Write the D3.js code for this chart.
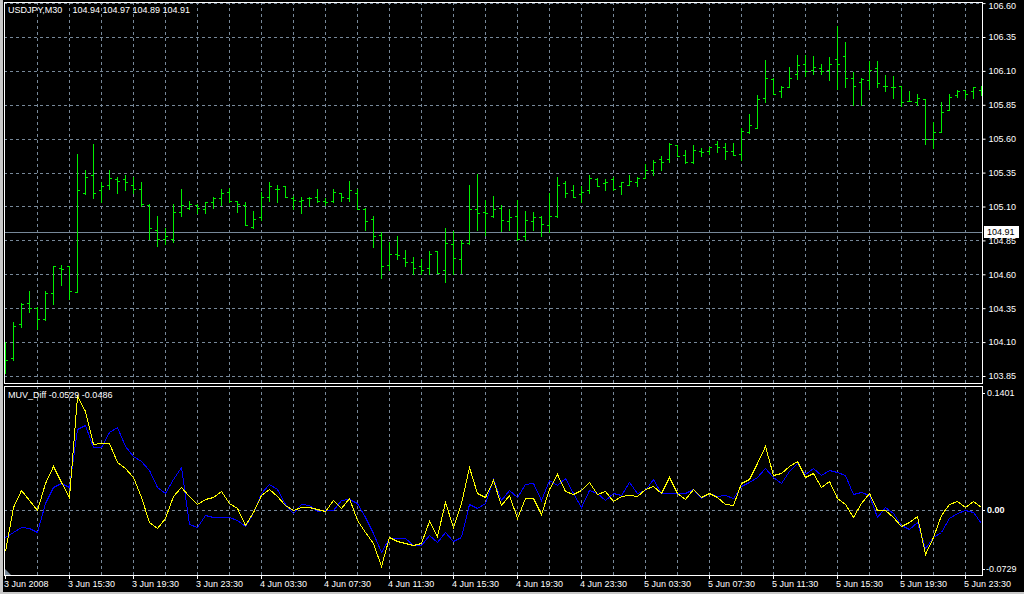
<!DOCTYPE html>
<html>
<head>
<meta charset="utf-8">
<script src="https://cdn.jsdelivr.net/npm/d3@7"></script>
<style>
html,body{margin:0;padding:0;background:#000;}
svg{display:block;}
text{font-family:"Liberation Sans",Arial,sans-serif;font-size:9px;}
</style>
</head>
<body>
<svg id="chart" width="1024" height="594"></svg>
<script>
// ---------- DATA ----------
const symbolTitle = "USDJPY,M30";
const quoteTitle = "104.94 104.97 104.89 104.91";
const indicatorTitle = "MUV_Diff -0.0529 -0.0486";
const bidPrice = 104.91;

const openPrices = [103.89,103.98,104.23,104.39,104.35,104.27,104.46,104.65,104.66,104.47,
105.20,105.33,105.22,105.26,105.30,105.30,105.26,105.23,105.11,104.93,
104.86,104.86,105.06,105.09,105.11,105.08,105.13,105.16,105.21,105.14,
105.11,104.95,105.02,105.17,105.23,105.25,105.16,105.14,105.16,105.17,
105.14,105.14,105.20,105.16,105.20,105.08,105.01,104.89,104.67,104.75,
104.72,104.69,104.66,104.65,104.77,104.63,104.82,104.71,104.83,105.08,
105.06,105.03,105.09,104.99,105.03,104.88,104.99,105.02,104.96,105.03,
105.27,105.22,105.19,105.22,105.30,105.27,105.30,105.25,105.26,105.28,
105.31,105.37,105.45,105.45,105.55,105.48,105.43,105.51,105.51,105.56,
105.54,105.51,105.49,105.65,105.68,105.90,106.04,105.95,105.98,106.08,
106.15,106.11,106.12,106.11,106.19,106.21,106.05,106.02,106.03,106.12,
105.99,105.98,105.99,105.88,105.87,105.89,105.60,105.65,105.81,105.92,
105.96,105.95,105.96];

const highPrices = [104.10,104.25,104.39,104.48,104.36,104.48,104.66,104.67,104.66,105.49,
105.37,105.56,105.28,105.37,105.32,105.33,105.32,105.28,105.12,105.03,
104.94,105.12,105.23,105.14,105.12,105.13,105.17,105.23,105.24,105.14,
105.13,105.07,105.21,105.28,105.26,105.25,105.18,105.17,105.17,105.23,
105.16,105.23,105.20,105.29,105.23,105.09,105.03,104.91,104.84,104.88,
104.78,104.73,104.71,104.77,104.77,104.94,104.92,104.85,105.26,105.34,
105.15,105.18,105.11,105.08,105.15,105.07,105.06,105.03,105.20,105.32,
105.29,105.26,105.25,105.33,105.31,105.30,105.32,105.28,105.33,105.32,
105.41,105.44,105.47,105.57,105.55,105.52,105.55,105.53,105.54,105.58,
105.57,105.57,105.68,105.78,105.92,106.18,106.05,105.99,106.13,106.22,
106.22,106.21,106.15,106.20,106.43,106.31,106.09,106.05,106.17,106.17,
106.07,106.06,105.99,105.95,105.93,105.89,105.72,105.87,105.93,105.96,
105.96,105.98,105.99];

const lowPrices = [103.87,103.97,104.21,104.32,104.20,104.26,104.38,104.52,104.42,104.47,
105.19,105.16,105.13,105.23,105.20,105.22,105.20,105.10,104.86,104.81,
104.82,104.84,105.03,105.08,105.05,105.05,105.09,105.11,105.13,105.06,
104.96,104.94,105.00,105.14,105.13,105.17,105.08,105.05,105.10,105.13,
105.11,105.13,105.14,105.14,105.08,104.93,104.80,104.57,104.63,104.71,
104.66,104.60,104.60,104.60,104.61,104.54,104.60,104.61,104.82,104.93,
104.89,105.02,104.92,104.93,104.85,104.85,104.93,104.88,104.91,105.02,
105.17,105.17,105.13,105.20,105.25,105.22,105.22,105.19,105.26,105.25,
105.31,105.33,105.37,105.43,105.47,105.42,105.42,105.47,105.49,105.50,
105.45,105.48,105.44,105.64,105.68,105.87,105.93,105.91,105.98,106.04,
106.06,106.08,106.08,106.03,105.97,105.98,105.85,105.85,105.97,105.98,
105.95,105.90,105.84,105.88,105.85,105.56,105.53,105.65,105.81,105.91,
105.90,105.90,105.92];

const closePrices = [103.97,104.22,104.38,104.35,104.27,104.46,104.66,104.64,104.48,105.22,
105.32,105.20,105.25,105.31,105.29,105.28,105.23,105.12,104.94,104.86,
104.88,105.06,105.11,105.12,105.09,105.13,105.16,105.20,105.14,105.12,
104.96,105.01,105.17,105.25,105.23,105.17,105.15,105.15,105.16,105.14,
105.13,105.21,105.17,105.22,105.08,104.99,104.88,104.66,104.75,104.74,
104.69,104.65,104.63,104.75,104.61,104.83,104.72,104.83,105.08,105.05,
105.05,105.08,105.00,105.02,104.86,105.00,105.02,104.97,105.03,105.26,
105.20,105.17,105.21,105.31,105.25,105.28,105.23,105.28,105.29,105.31,
105.37,105.43,105.43,105.56,105.47,105.43,105.52,105.50,105.54,105.54,
105.51,105.48,105.66,105.70,105.89,106.05,105.93,105.98,106.05,106.14,
106.10,106.13,106.10,106.15,106.15,106.05,105.99,106.04,106.11,106.01,
105.99,105.98,105.87,105.88,105.90,105.60,105.65,105.80,105.91,105.95,
105.93,105.98,105.98];

const muvYellow = [-0.0471,0.0031,0.0232,0.0116,0.0000,0.0309,0.0509,0.0328,0.0147,0.1320,
0.1146,0.0764,0.0772,0.0772,0.0560,0.0482,0.0386,0.0154,-0.0135,-0.0205,
-0.0097,0.0162,0.0262,0.0166,0.0069,0.0124,0.0154,0.0224,0.0085,0.0019,
-0.0174,-0.0019,0.0174,0.0243,0.0162,0.0058,0.0000,0.0031,0.0031,0.0008,
-0.0012,0.0116,0.0027,0.0135,-0.0116,-0.0251,-0.0386,-0.0645,-0.0316,-0.0359,
-0.0378,-0.0405,-0.0378,-0.0124,-0.0301,0.0097,-0.0201,0.0077,0.0502,0.0193,
0.0147,0.0347,0.0058,0.0174,-0.0097,0.0135,0.0135,-0.0050,0.0239,0.0417,
0.0220,0.0181,0.0232,0.0320,0.0181,0.0220,0.0104,0.0166,0.0174,0.0162,
0.0243,0.0278,0.0201,0.0386,0.0193,0.0124,0.0239,0.0147,0.0193,0.0154,
0.0069,0.0058,0.0316,0.0359,0.0540,0.0745,0.0405,0.0425,0.0509,0.0567,
0.0378,0.0425,0.0262,0.0336,0.0135,0.0066,-0.0077,0.0085,0.0201,0.0000,
0.0000,-0.0077,-0.0181,-0.0135,-0.0066,-0.0509,-0.0309,-0.0058,0.0069,0.0104,
0.0039,0.0108,0.0039];

const muvBlue = [-0.0316,-0.0251,-0.0193,-0.0212,-0.0251,0.0077,0.0270,0.0309,0.0270,0.0934,
0.0984,0.0733,0.0733,0.0907,0.0965,0.0741,0.0625,0.0571,0.0463,0.0262,
0.0193,0.0359,0.0494,-0.0162,-0.0193,-0.0058,-0.0077,-0.0077,-0.0077,-0.0116,
-0.0185,-0.0039,0.0193,0.0301,0.0239,0.0069,-0.0031,0.0069,0.0058,-0.0012,
0.0000,0.0000,0.0116,0.0124,0.0085,-0.0077,-0.0270,-0.0482,-0.0320,-0.0328,
-0.0328,-0.0405,-0.0405,-0.0289,-0.0367,-0.0251,-0.0359,-0.0309,0.0066,0.0027,
0.0085,0.0359,0.0116,0.0232,0.0147,0.0297,0.0309,0.0116,0.0347,0.0289,
0.0367,0.0193,0.0039,0.0232,0.0193,0.0116,0.0193,0.0174,0.0320,0.0193,
0.0232,0.0359,0.0201,0.0193,0.0193,0.0193,0.0239,0.0135,0.0193,0.0162,
0.0174,0.0135,0.0282,0.0328,0.0386,0.0482,0.0378,0.0309,0.0452,0.0540,
0.0413,0.0490,0.0405,0.0463,0.0444,0.0405,0.0181,0.0212,0.0174,-0.0077,
0.0039,-0.0039,-0.0174,-0.0220,-0.0135,-0.0444,-0.0309,-0.0251,-0.0097,-0.0039,
0.0000,-0.0027,-0.0147];

const priceTicks = [106.60,106.35,106.10,105.85,105.60,105.35,105.10,104.85,104.60,104.35,104.10,103.85];
const indicatorTicks = [0.1401, 0.00, -0.0729];
const indicatorTickLabels = ["0.1401", "0.00", "-0.0729"];
const timeTickBars = [0,8,16,24,32,40,48,56,64,72,80,88,96,104,112,120];
const timeTickLabels = ["3 Jun 2008","3 Jun 15:30","3 Jun 19:30","3 Jun 23:30","4 Jun 03:30","4 Jun 07:30",
  "4 Jun 11:30","4 Jun 15:30","4 Jun 19:30","4 Jun 23:30","5 Jun 03:30","5 Jun 07:30",
  "5 Jun 11:30","5 Jun 15:30","5 Jun 19:30","5 Jun 23:30"];

// ---------- LAYOUT ----------
const L = 4, R = 982;
const mainTop = 2, mainBot = 383;
const subTop = 386, subBot = 575;
const gridColor = "#778899";
const barColor = "#00ee00";

const svg = d3.select("#chart");
svg.append("rect").attr("width",1024).attr("height",594).attr("fill","#000");

const bars = openPrices.map((o,i)=>({i, o, h:highPrices[i], l:lowPrices[i], c:closePrices[i]}));

const x = d3.scaleLinear().domain([0, bars.length-1]).range([5, 981]);
const yP = d3.scaleLinear().domain([103.85, 106.60]).range([376, 3.1]);
const yS = d3.scaleLinear().domain([-0.0729, 0.1401]).range([573, 389]);

const px = v => Math.round(v) + 0.5;

// clip paths
const defs = svg.append("defs");
defs.append("clipPath").attr("id","clipMain").append("rect")
  .attr("x",L+1).attr("y",mainTop+1).attr("width",R-L-1).attr("height",mainBot-mainTop-1);
defs.append("clipPath").attr("id","clipSub").append("rect")
  .attr("x",L+1).attr("y",subTop+1).attr("width",R-L-1).attr("height",subBot-subTop-1);

// ---------- GRID ----------
const gridBars = d3.range(4, bars.length, 4);
const gMain = svg.append("g").attr("clip-path","url(#clipMain)").attr("shape-rendering","crispEdges");
gMain.selectAll("line.vg").data(gridBars).join("line")
  .attr("x1",d=>px(x(d))).attr("x2",d=>px(x(d)))
  .attr("y1",mainTop).attr("y2",mainBot)
  .attr("stroke",gridColor).attr("stroke-dasharray","3,3");
gMain.selectAll("line.hg").data(priceTicks).join("line")
  .attr("x1",L).attr("x2",R)
  .attr("y1",d=>px(yP(d))).attr("y2",d=>px(yP(d)))
  .attr("stroke",gridColor).attr("stroke-dasharray","3,3");
// bid line
gMain.append("line").attr("x1",L).attr("x2",R)
  .attr("y1",px(yP(bidPrice))).attr("y2",px(yP(bidPrice)))
  .attr("stroke",gridColor);

const gSub = svg.append("g").attr("clip-path","url(#clipSub)").attr("shape-rendering","crispEdges");
gSub.selectAll("line.vg").data(gridBars).join("line")
  .attr("x1",d=>px(x(d))).attr("x2",d=>px(x(d)))
  .attr("y1",subTop).attr("y2",subBot)
  .attr("stroke",gridColor).attr("stroke-dasharray","3,3");
gSub.append("line").attr("x1",L).attr("x2",R)
  .attr("y1",px(yS(0))).attr("y2",px(yS(0)))
  .attr("stroke",gridColor).attr("stroke-dasharray","3,3");

// ---------- OHLC BARS ----------
const gBars = gMain.append("g").attr("fill",barColor);
gBars.selectAll("rect.v").data(bars).join("rect")
  .attr("x",d=>Math.round(x(d.i))).attr("width",1)
  .attr("y",d=>Math.round(yP(d.h))).attr("height",d=>Math.max(1,Math.round(yP(d.l))-Math.round(yP(d.h))+1));
gBars.selectAll("rect.o").data(bars).join("rect")
  .attr("x",d=>Math.round(x(d.i))-2).attr("width",2)
  .attr("y",d=>Math.round(yP(d.o))).attr("height",1);
gBars.selectAll("rect.c").data(bars).join("rect")
  .attr("x",d=>Math.round(x(d.i))+1).attr("width",2)
  .attr("y",d=>Math.round(yP(d.c))).attr("height",1);

// ---------- INDICATOR LINES ----------
const line = d3.line().x((d,i)=>x(i)+0.5).y(d=>Math.round(yS(d))+0.5);
const gLines = svg.append("g").attr("clip-path","url(#clipSub)");
gLines.append("path").datum(muvBlue).attr("d",line)
  .attr("fill","none").attr("stroke","#0000ff").attr("stroke-width",1).attr("shape-rendering","crispEdges");
gLines.append("path").datum(muvYellow).attr("d",line)
  .attr("fill","none").attr("stroke","#ffff00").attr("stroke-width",1).attr("shape-rendering","crispEdges");

// small shift marker
svg.append("path").attr("d",`M${L+1},${subBot-6}L${L+1},${subBot}L${L+7},${subBot}Z`).attr("fill",gridColor);

// ---------- FRAMES ----------
const gFrame = svg.append("g").attr("shape-rendering","crispEdges").attr("fill","none").attr("stroke","#fff");
gFrame.append("rect").attr("x",L+0.5).attr("y",mainTop+0.5).attr("width",R-L).attr("height",mainBot-mainTop);
gFrame.append("rect").attr("x",L+0.5).attr("y",subTop+0.5).attr("width",R-L).attr("height",subBot-subTop);

// window edge (left and bottom)
svg.append("rect").attr("x",0).attr("y",0).attr("width",3).attr("height",594).attr("fill","#c8c8c8");
svg.append("rect").attr("x",0).attr("y",592).attr("width",1024).attr("height",2).attr("fill","#c8c8c8");

// ---------- AXES ----------
const yAxisMain = d3.axisRight(yP).tickValues(priceTicks).tickFormat(d3.format(".2f")).tickSize(3).tickPadding(3);
const axM = svg.append("g").attr("transform",`translate(${R+0.5},0)`).call(yAxisMain);
axM.select(".domain").remove();
axM.selectAll(".tick line").attr("stroke","#fff");
axM.selectAll(".tick text").attr("fill","#fff").style("font-family",'"Liberation Sans",Arial,sans-serif').style("font-size","9px");
axM.selectAll(".tick").filter(d=>d===106.60).select("text").attr("dy","0.65em");

// bid label box
const bidY = Math.round(yP(bidPrice));
svg.append("rect").attr("x",984).attr("y",bidY-6).attr("width",35).attr("height",12).attr("fill","#fff");
svg.append("text").attr("x",987).attr("y",bidY).attr("dy","0.35em").attr("fill","#000").text(d3.format(".2f")(bidPrice));

// indicator axis
const axS = svg.append("g");
axS.selectAll("text").data(indicatorTicks).join("text")
  .attr("x",(d,i)=> i===2 ? 986 : 987)
  .attr("y",(d,i)=> i===0 ? 393 : (i===2 ? 569 : Math.round(yS(d))))
  .attr("dy","0.35em")
  .attr("fill","#fff")
  .attr("font-weight",(d,i)=> i===1 ? "bold" : "normal")
  .text((d,i)=>indicatorTickLabels[i]);
axS.selectAll("line").data(indicatorTicks).join("line")
  .attr("x1",R).attr("x2",R+3)
  .attr("y1",(d,i)=> (i===0 ? 393 : (i===2 ? 569 : Math.round(yS(d))))+0.5)
  .attr("y2",(d,i)=> (i===0 ? 393 : (i===2 ? 569 : Math.round(yS(d))))+0.5)
  .attr("stroke","#fff").attr("shape-rendering","crispEdges");

// time axis
const gTime = svg.append("g");
gTime.selectAll("line").data(timeTickBars).join("line")
  .attr("x1",d=>px(x(d))).attr("x2",d=>px(x(d)))
  .attr("y1",subBot+1).attr("y2",subBot+4)
  .attr("stroke","#fff").attr("shape-rendering","crispEdges");
gTime.selectAll("text").data(timeTickBars).join("text")
  .attr("x",d=>x(d)-1).attr("y",584).attr("dy","0.35em")
  .attr("fill","#fff").text((d,i)=>timeTickLabels[i]);

// ---------- TITLES ----------
svg.append("text").attr("x",8).attr("y",10).attr("dy","0.35em").attr("fill","#fff").text(symbolTitle);
svg.append("text").attr("x",72.5).attr("y",10).attr("dy","0.35em").attr("fill","#fff").text(quoteTitle);
svg.append("text").attr("x",8).attr("y",395).attr("dy","0.35em").attr("fill","#fff").text(indicatorTitle);
</script>
</body>
</html>
